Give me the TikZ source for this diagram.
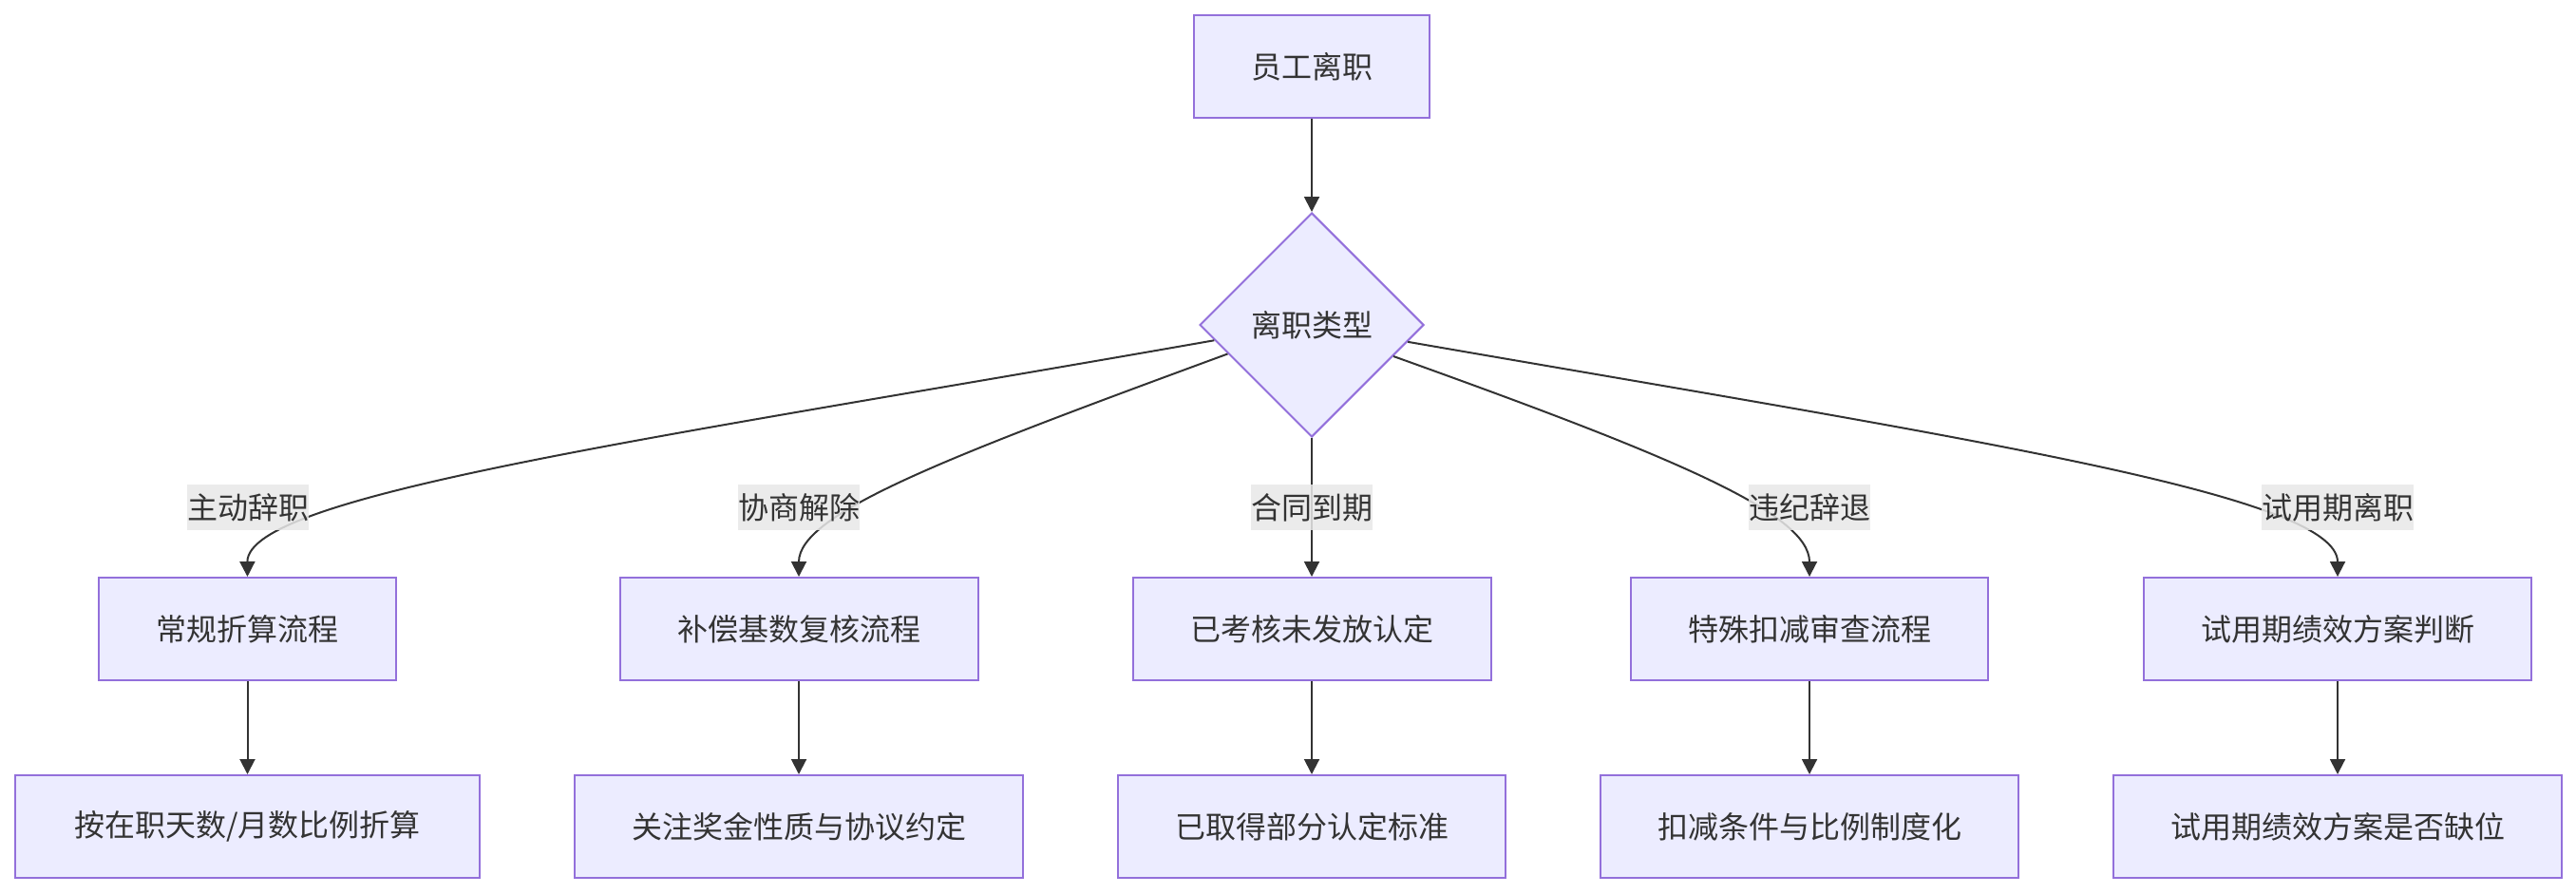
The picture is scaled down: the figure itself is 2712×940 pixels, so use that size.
\documentclass[tikz,border=0pt]{standalone}
\usepackage{fontspec}
\newfontfamily\cjk{Noto Sans CJK SC}
\usetikzlibrary{arrows.meta,shapes.geometric}
\definecolor{boxfill}{HTML}{ECECFF}
\definecolor{boxdraw}{HTML}{9370DB}
\definecolor{ink}{HTML}{333333}
\definecolor{lblbg}{HTML}{E8E8E8}
\begin{document}
\begin{tikzpicture}[x=1pt,y=-1pt,
  every node/.style={font=\cjk\fontsize{32}{48}\selectfont, text=ink},
  box/.style={draw=boxdraw, fill=boxfill, line width=2pt, minimum height=108pt, inner sep=0pt},
  dec/.style={diamond, draw=boxdraw, fill=boxfill, line width=2pt, minimum width=236pt, minimum height=236pt, inner sep=0pt},
  lbl/.style={fill=lblbg, fill opacity=0.85, text opacity=1, inner sep=0pt, minimum height=48pt},
  conn/.style={draw=ink, line width=2pt, -{Triangle[length=16pt,width=16pt]}}]
\useasboundingbox (0,0) rectangle (2712,940);
\node[box, minimum width=248pt] (t) at (1381,70) {员工离职};
\node[dec] (d) at (1381,342) {离职类型};
\node[box, minimum width=313pt] (b1) at (260.5,662) {常规折算流程};
\node[box, minimum width=377pt] (b2) at (841,662) {补偿基数复核流程};
\node[box, minimum width=377pt] (b3) at (1381,662) {已考核未发放认定};
\node[box, minimum width=376pt] (b4) at (1905,662) {特殊扣减审查流程};
\node[box, minimum width=408pt] (b5) at (2461,662) {试用期绩效方案判断};
\node[box, minimum width=489pt] (c1) at (260.5,870) {按在职天数/月数比例折算};
\node[box, minimum width=472pt] (c2) at (841,870) {关注奖金性质与协议约定};
\node[box, minimum width=408pt] (c3) at (1381,870) {已取得部分认定标准};
\node[box, minimum width=440pt] (c4) at (1905,870) {扣减条件与比例制度化};
\node[box, minimum width=472pt] (c5) at (2461,870) {试用期绩效方案是否缺位};
\draw[conn] (t) -- (d);
\draw[conn] (d.189.55) .. controls (700,460) and (260,520) .. (b1.north);
\draw[conn] (d.199.8) .. controls (1000,480) and (841,540) .. (b2.north);
\draw[conn] (d.south) -- (b3.north);
\draw[conn] (d.339.8) .. controls (1760,480) and (1905,540) .. (b4.north);
\draw[conn] (d.350) .. controls (2060,460) and (2461,520) .. (b5.north);
\draw[conn] (b1) -- (c1);
\draw[conn] (b2) -- (c2);
\draw[conn] (b3) -- (c3);
\draw[conn] (b4) -- (c4);
\draw[conn] (b5) -- (c5);
\node[lbl] (l1) at (261,534) {主动辞职};
\node[lbl] (l2) at (841,534) {协商解除};
\node[lbl] (l3) at (1381,534) {合同到期};
\node[lbl] (l4) at (1905,534) {违纪辞退};
\node[lbl] (l5) at (2461,534) {试用期离职};
\end{tikzpicture}
\end{document}
